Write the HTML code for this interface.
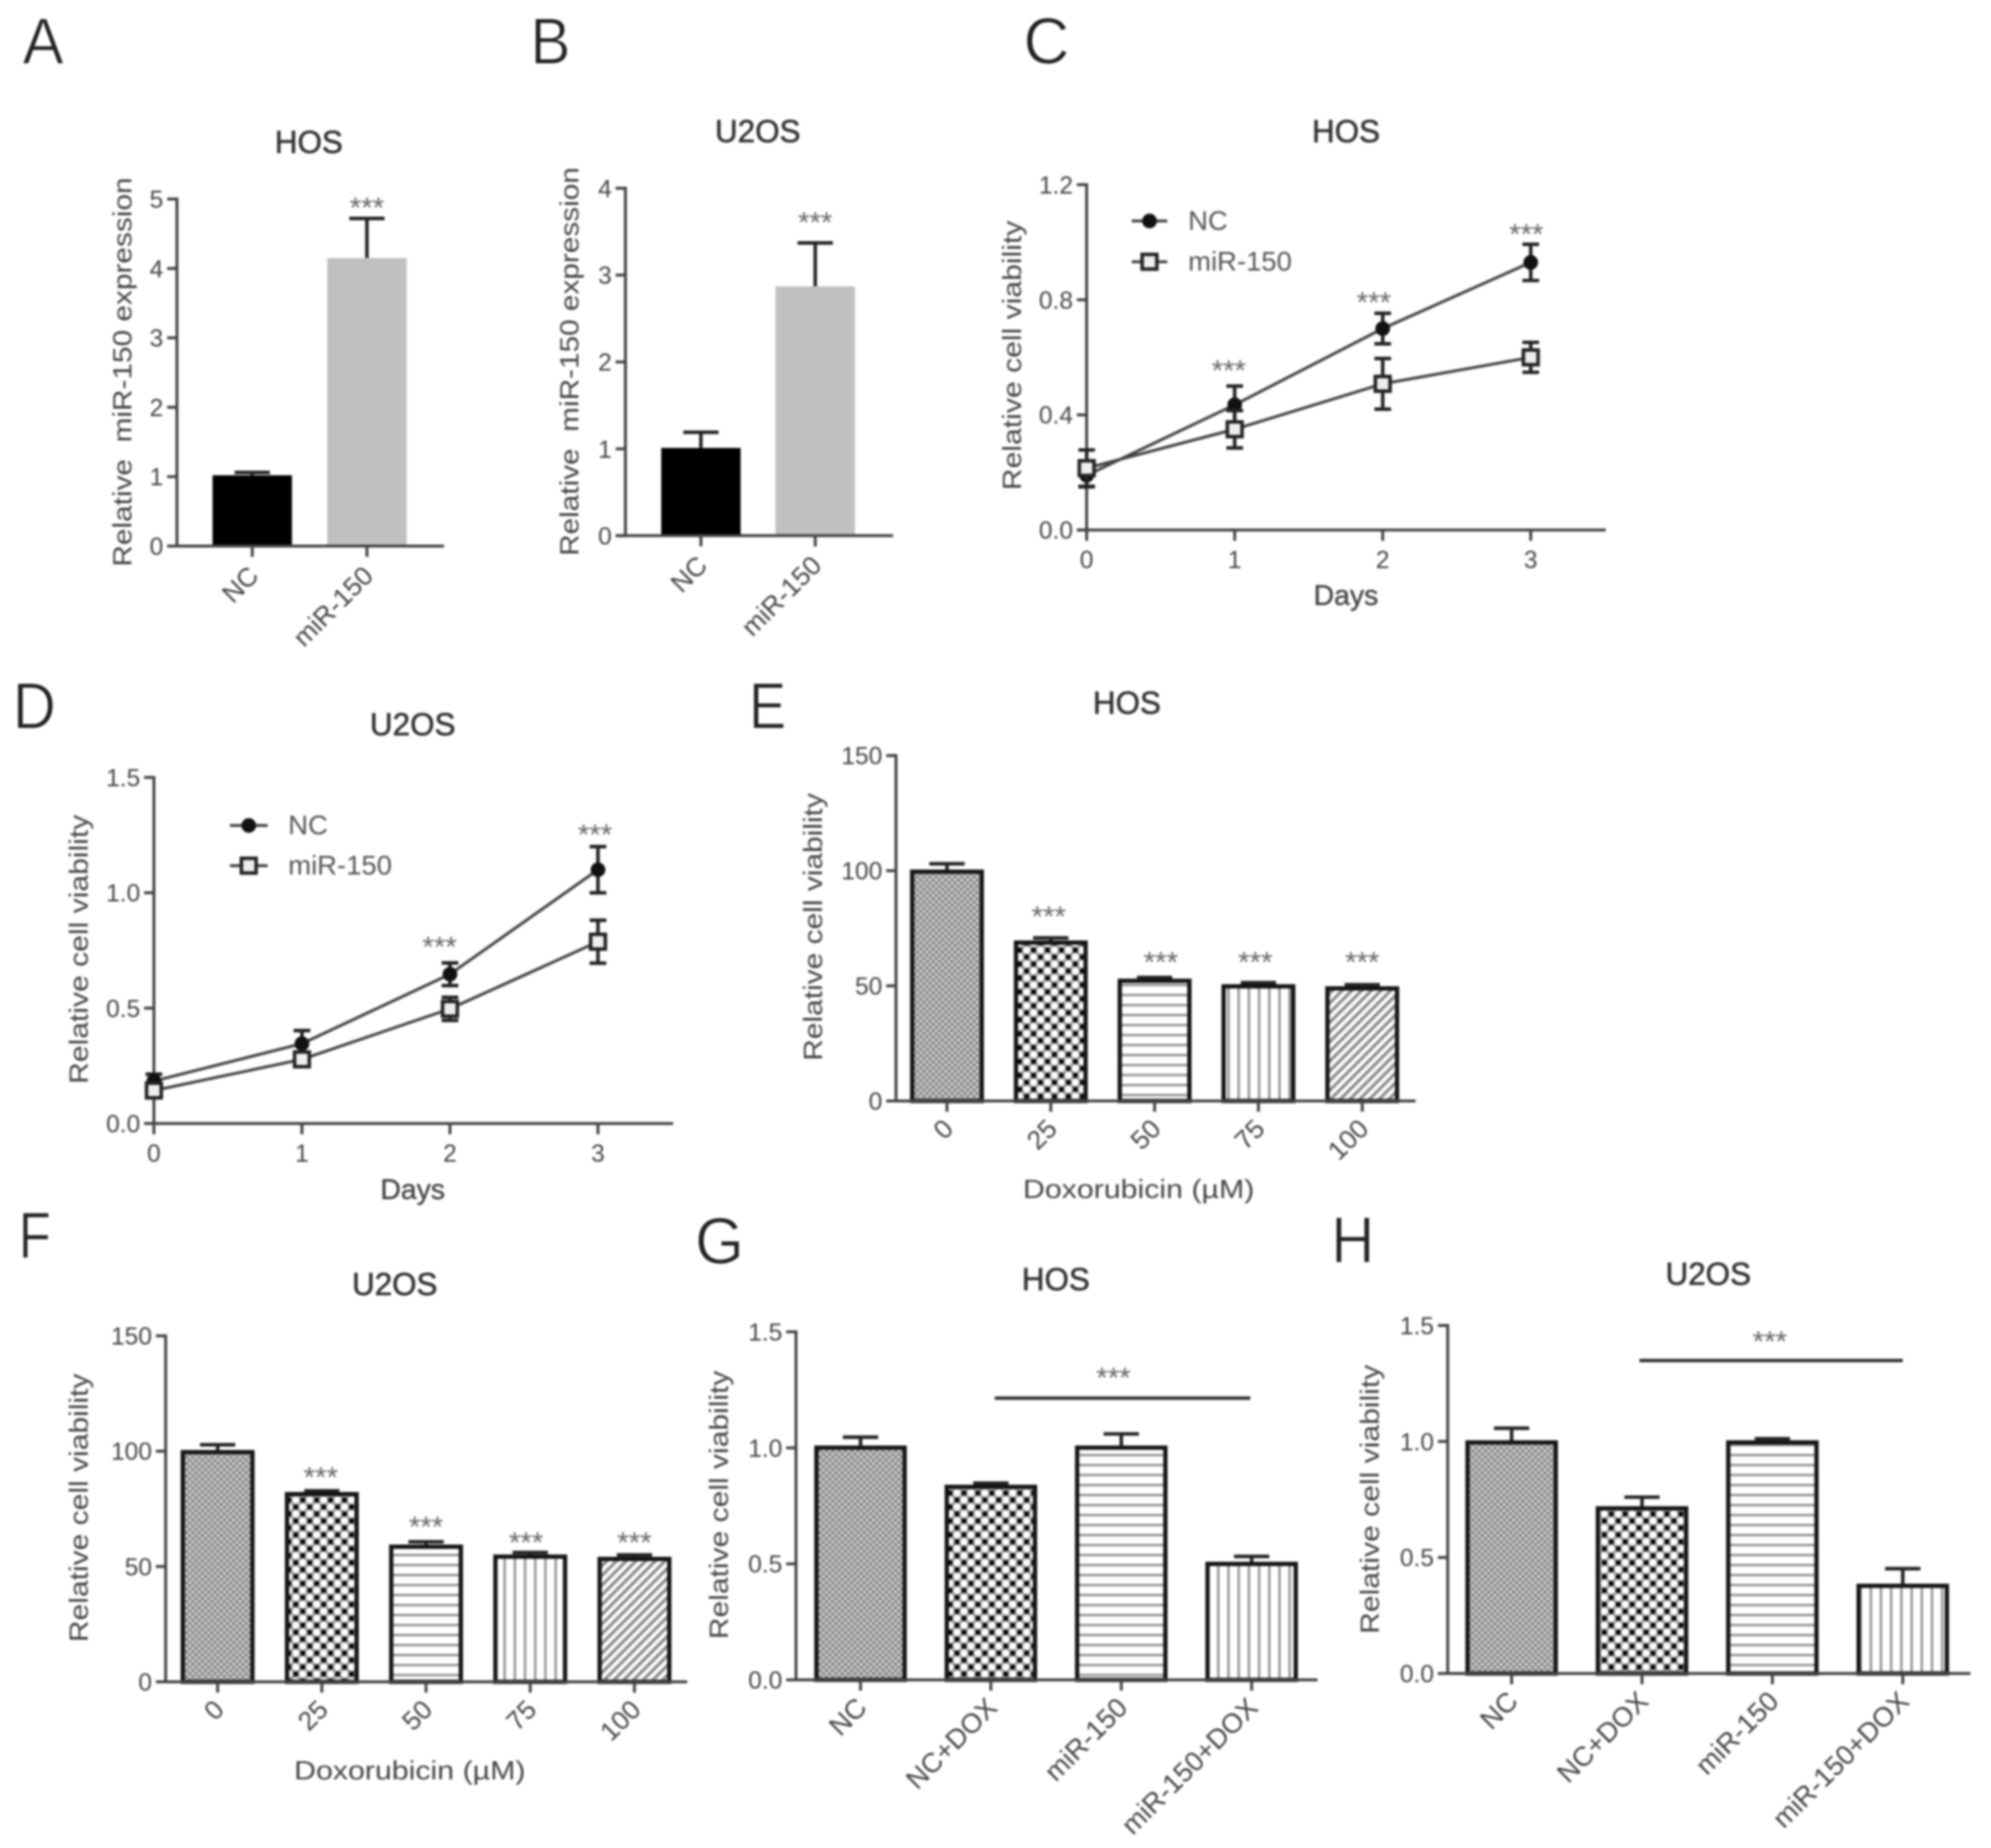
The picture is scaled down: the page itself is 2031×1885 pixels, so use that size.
<!DOCTYPE html>
<html lang="en">
<head>
<meta charset="utf-8">
<title>miR-150 viability figure</title>
<style>
  html, body { margin: 0; padding: 0; background: #fff; }
  #figure { display: block; width: 2031px; height: 1885px; filter: blur(0.95px); }
  text { font-family: "Liberation Sans", Arial, sans-serif; white-space: pre; }
  .letter { font-size: 67px; fill: #222; stroke: #fff; stroke-width: 1px; }
  .title { font-size: 32px; fill: #333; stroke: #333; stroke-width: 0.6px; text-anchor: middle; }
  .ylabel { font-size: 27px; fill: #444; text-anchor: middle; }
  .xlabel { font-size: 27px; fill: #444; text-anchor: middle; }
  .days { font-size: 29px; fill: #444; stroke: #444; stroke-width: 0.4px; text-anchor: middle; }
  .tick-text { font-size: 25px; fill: #444; }
  .stars { font-size: 30px; fill: #666; text-anchor: middle; }
  .legend-text { font-size: 28px; fill: #555; }
  .axis { stroke: #444; stroke-width: 3px; fill: none; }
  .outline { stroke: #151515; stroke-width: 4.4px; }
  .err { stroke: #222; stroke-width: 3.6px; fill: none; }
  .err-line { stroke: #222; stroke-width: 3.6px; fill: none; }
  .series { stroke: #444; stroke-width: 3px; fill: none; }
  .sig { stroke: #333; stroke-width: 3.5px; fill: none; }
</style>
</head>
<body>
<svg id="figure" xmlns="http://www.w3.org/2000/svg" width="2031" height="1885" viewBox="0 0 2031 1885">
  <defs>
    <pattern id="fill-dense" patternUnits="userSpaceOnUse" width="6.4" height="6.4">
      <rect width="6.4" height="6.4" fill="#8a8a8a"/>
      <circle cx="1.6" cy="1.6" r="1.55" fill="#d8d8d8"/>
      <circle cx="4.8" cy="4.8" r="1.55" fill="#d8d8d8"/>
    </pattern>
    <pattern id="fill-dots" patternUnits="userSpaceOnUse" width="14.2" height="14.2">
      <rect width="14.2" height="14.2" fill="#a8a8a8"/>
      <rect x="1.2" y="1.2" width="4.7" height="4.7" fill="#000"/>
      <rect x="8.3" y="8.3" width="4.7" height="4.7" fill="#000"/>
      <circle cx="10.65" cy="3.55" r="3.5" fill="#fff"/>
      <circle cx="3.55" cy="10.65" r="3.5" fill="#fff"/>
    </pattern>
    <pattern id="fill-horizontal" patternUnits="userSpaceOnUse" width="10" height="10.2">
      <rect width="10" height="10.2" fill="#fff"/>
      <rect y="4" width="10" height="2.4" fill="#909090"/>
    </pattern>
    <pattern id="fill-vertical" patternUnits="userSpaceOnUse" width="10.4" height="10">
      <rect width="10.4" height="10" fill="#fff"/>
      <rect x="4" width="2.4" height="10" fill="#909090"/>
    </pattern>
    <pattern id="fill-diagonal" patternUnits="userSpaceOnUse" width="7" height="7" patternTransform="rotate(-45)">
      <rect width="7" height="7" fill="#fff"/>
      <rect y="1" width="7" height="3.2" fill="#8a8a8a"/>
    </pattern>
  </defs>
  <text class="letter" x="23" y="65" textLength="42" lengthAdjust="spacingAndGlyphs">A</text>
  <text class="letter" x="541" y="65" textLength="41" lengthAdjust="spacingAndGlyphs">B</text>
  <text class="letter" x="1044" y="65" textLength="47" lengthAdjust="spacingAndGlyphs">C</text>
  <text class="letter" x="13" y="743" textLength="44" lengthAdjust="spacingAndGlyphs">D</text>
  <text class="letter" x="764" y="743" textLength="38" lengthAdjust="spacingAndGlyphs">E</text>
  <text class="letter" x="19" y="1283" textLength="33" lengthAdjust="spacingAndGlyphs">F</text>
  <text class="letter" x="709" y="1289" textLength="50" lengthAdjust="spacingAndGlyphs">G</text>
  <text class="letter" x="1358" y="1288" textLength="44" lengthAdjust="spacingAndGlyphs">H</text>
</svg>
<script>
// ---------- Panel data ----------
const panelACategories = ['NC', 'miR-150'];
const panelAValues = [1.02, 4.15];
const panelAErrors = [0.04, 0.57];
const panelATicks = [0, 1, 2, 3, 4, 5];
const panelAStarCategory = [1];
const panelAStarLevels = [4.94];

const panelBCategories = ['NC', 'miR-150'];
const panelBValues = [1.01, 2.87];
const panelBErrors = [0.18, 0.5];
const panelBTicks = [0, 1, 2, 3, 4];
const panelBStarCategory = [1];
const panelBStarLevels = [3.66];

const panelCDays = [0, 1, 2, 3];
const panelCNcValues = [0.19, 0.435, 0.70, 0.93];
const panelCNcErrors = [0.04, 0.065, 0.053, 0.063];
const panelCMirValues = [0.215, 0.35, 0.508, 0.60];
const panelCMirErrors = [0.063, 0.065, 0.088, 0.052];
const panelCTicks = ['0.0', '0.4', '0.8', '1.2'];
const panelCStarDays = [0.96, 1.94, 2.97];
const panelCStarLevels = [0.571, 0.807, 1.045];

const panelDDays = [0, 1, 2, 3];
const panelDNcValues = [0.184, 0.346, 0.647, 1.10];
const panelDNcErrors = [0.03, 0.057, 0.049, 0.10];
const panelDMirValues = [0.143, 0.278, 0.497, 0.788];
const panelDMirErrors = [0.03, 0.03, 0.05, 0.093];
const panelDTicks = ['0.0', '0.5', '1.0', '1.5'];
const panelDStarDays = [1.93, 2.98];
const panelDStarLevels = [0.786, 1.273];

const panelECategories = ['0', '25', '50', '75', '100'];
const panelEValues = [100, 69.2, 52.6, 50.2, 49.3];
const panelEErrors = [3, 1.6, 1.0, 1.2, 1.2];
const panelETicks = [0, 50, 100, 150];
const panelEStarCategory = [0.98, 2.06, 2.97, 4];
const panelEStarLevels = [82.2, 62.3, 62.3, 62.3];

const panelFCategories = ['0', '25', '50', '75', '100'];
const panelFValues = [100, 81.8, 59, 54.7, 53.7];
const panelFErrors = [2.8, 1.0, 1.7, 1.4, 1.3];
const panelFTicks = [0, 50, 100, 150];
const panelFStarCategory = [0.99, 2, 2.96, 4];
const panelFStarLevels = [90.7, 69.2, 62.4, 62.4];

const panelGCategories = ['NC', 'NC+DOX', 'miR-150', 'miR-150+DOX'];
const panelGValues = [1.005, 0.836, 1.005, 0.504];
const panelGErrors = [0.041, 0.012, 0.055, 0.028];
const panelGTicks = ['0.0', '0.5', '1.0', '1.5'];
const panelGBracketCategories = [1.03, 2.99];
const panelGBracketLevels = [1.214];
const panelGStarCategory = [1.94];
const panelGStarLevels = [1.323];

const panelHCategories = ['NC', 'NC+DOX', 'miR-150', 'miR-150+DOX'];
const panelHValues = [1.0, 0.716, 1.0, 0.382];
const panelHErrors = [0.057, 0.044, 0.012, 0.07];
const panelHTicks = ['0.0', '0.5', '1.0', '1.5'];
const panelHBracketCategories = [0.98, 3.0];
const panelHBracketLevels = [1.349];
const panelHStarCategory = [1.98];
const panelHStarLevels = [1.452];

const legendNames = ['NC', 'miR-150'];

// ---------- Drawing helpers ----------
const NS = 'http://www.w3.org/2000/svg';
const figure = document.getElementById('figure');

function makeEl(parent, tag, attrs) {
  const el = document.createElementNS(NS, tag);
  for (const k in attrs) el.setAttribute(k, attrs[k]);
  parent.appendChild(el);
  return el;
}

function drawLine(parent, x1, y1, x2, y2, cls, name) {
  const el = makeEl(parent, 'line', { x1: x1, y1: y1, x2: x2, y2: y2, class: cls });
  
  
  return el;
}

function drawText(parent, x, y, str, cls, name, extra) {
  const el = makeEl(parent, 'text', Object.assign({ x: x, y: y, class: cls }, extra || {}));
  el.textContent = str;
  
  
  return el;
}

function drawGroup(name) {
  const el = makeEl(figure, 'g', {});
  
  
  return el;
}

function starText(parent, x, centerY, name) {
  return drawText(parent, x, centerY + 15, '***', 'stars', name);
}

function drawFrame(g, p, yScale) {
  const f = p.frame;
  drawLine(g, f.left, f.top - 1.5, f.left, f.zero + 1.5, 'axis', 'y-axis-line');
  drawLine(g, f.left - 10, f.zero, f.right, f.zero, 'axis', 'x-axis-line');
  p.yTicks.forEach(function (t) {
    const y = yScale(Number(t));
    drawLine(g, f.left - 10, y, f.left, y, 'axis', 'y-tick');
    drawText(g, f.left - 14, y + 9, String(t), 'tick-text', 'y-tick-label', { 'text-anchor': 'end' });
  });
  drawText(g, p.titleX, p.titleY + 11, p.title, 'title', 'panel-title');
  const labelMid = (p.yLabelTop + p.yLabelBottom) / 2;
  drawText(g, 0, 0, p.yLabel, 'ylabel', 'y-axis-title', {
    transform: 'translate(' + (p.yLabelX + 8.5) + ',' + labelMid + ') rotate(-90)',
    textLength: p.yLabelBottom - p.yLabelTop,
    lengthAdjust: 'spacingAndGlyphs'
  });
}

function drawBarPanel(p) {
  const g = drawGroup('panel-' + p.id);
  const f = p.frame;
  const inset = p.outlined ? 1 : 0;
  const yScale = function (v) { return f.zero - v / p.yMax * (f.zero - f.top); };
  const xScale = function (i) { return p.catFirst + i * p.catStep; };
  p.values.forEach(function (v, i) {
    const cx = xScale(i);
    const top = yScale(v);
    const errTop = yScale(v + p.errors[i]);
    drawLine(g, cx, top, cx, errTop, 'err', 'error-bar-stem');
    drawLine(g, cx - 18, errTop, cx + 18, errTop, 'err', 'error-bar-cap');
    const bar = makeEl(g, 'rect', {
      x: cx - p.barWidth / 2,
      y: top + inset,
      width: p.barWidth,
      height: f.zero - top - inset,
      fill: p.fills[i],
      class: p.outlined ? 'outline' : ''
    });
    
    
  });
  drawFrame(g, p, yScale);
  p.categories.forEach(function (c, i) {
    const cx = xScale(i);
    drawLine(g, cx, f.zero, cx, f.zero + 11, 'axis', 'x-tick');
    const ax = cx + p.catDx;
    const ay = f.zero + p.catDy;
    drawText(g, 0, 0, c, 'tick-text', 'x-tick-label', {
      'text-anchor': 'end',
      style: 'font-size:' + p.catFont + 'px',
      transform: 'translate(' + ax + ',' + ay + ') rotate(-45)'
    });
  });
  p.starCategory.forEach(function (c, i) {
    starText(g, xScale(c), yScale(p.starLevels[i]), 'significance-stars');
  });
  if (p.bracketCategories) {
    const by = yScale(p.bracketLevels[0]);
    drawLine(g, xScale(p.bracketCategories[0]), by, xScale(p.bracketCategories[1]), by, 'sig', 'significance-line');
  }
  if (p.xTitle) {
    drawText(g, p.xTitleX, p.xTitleY + 10, p.xTitle, 'xlabel', 'x-axis-title', {
      textLength: p.xTitleWidth,
      lengthAdjust: 'spacingAndGlyphs'
    });
  }
}

function drawCircle(g, x, y, name) {
  const el = makeEl(g, 'circle', { cx: x, cy: y, r: 7.5, fill: '#111' });
  
  
}

function drawSquare(g, x, y, name) {
  const el = makeEl(g, 'rect', { x: x - 7.5, y: y - 7.5, width: 15, height: 15, fill: '#eee', stroke: '#222', 'stroke-width': 3.6 });
  
  
}

function drawSeries(g, p, xScale, yScale, values, errors, marker, seriesName) {
  const path = makeEl(g, 'polyline', {
    points: values.map(function (v, i) { return xScale(p.days[i]) + ',' + yScale(v); }).join(' '),
    class: 'series'
  });
  
  
  values.forEach(function (v, i) {
    const x = xScale(p.days[i]);
    const hi = yScale(v + errors[i]);
    const lo = yScale(v - errors[i]);
    drawLine(g, x, hi, x, lo, 'err-line', seriesName + '-error-bar');
    drawLine(g, x - 8.5, hi, x + 8.5, hi, 'err-line', seriesName + '-error-cap-top');
    drawLine(g, x - 8.5, lo, x + 8.5, lo, 'err-line', seriesName + '-error-cap-bottom');
    marker(g, x, yScale(v), seriesName + '-point');
  });
}

function drawLinePanel(p) {
  const g = drawGroup('panel-' + p.id);
  const f = p.frame;
  const yScale = function (v) { return f.zero - v / p.yMax * (f.zero - f.top); };
  const xScale = function (d) { return f.left + d * p.dayStep; };
  drawFrame(g, p, yScale);
  p.days.forEach(function (d) {
    const x = xScale(d);
    drawLine(g, x, f.zero, x, f.zero + 11, 'axis', 'x-tick');
    drawText(g, x, f.zero + 39, String(d), 'tick-text', 'x-tick-label', { 'text-anchor': 'middle' });
  });
  drawText(g, p.xTitleX, p.xTitleY + 10, 'Days', 'days', 'x-axis-title');
  drawSeries(g, p, xScale, yScale, p.ncValues, p.ncErrors, drawCircle, 'nc');
  drawSeries(g, p, xScale, yScale, p.mirValues, p.mirErrors, drawSquare, 'mir-150');
  p.starDays.forEach(function (d, i) {
    starText(g, xScale(d), yScale(p.starLevels[i]), 'significance-stars');
  });
  const lg = p.legend;
  const mid = (lg.x1 + lg.x2) / 2;
  drawLine(g, lg.x1, lg.y1, lg.x2, lg.y1, 'series', 'legend-line-nc');
  drawCircle(g, mid, lg.y1, 'legend-marker-nc');
  drawText(g, lg.textX, lg.y1 + 9, legendNames[0], 'legend-text', 'legend-entry-nc');
  drawLine(g, lg.x1, lg.y2, lg.x2, lg.y2, 'series', 'legend-line-mir-150');
  drawSquare(g, mid, lg.y2, 'legend-marker-mir-150');
  drawText(g, lg.textX, lg.y2 + 9, legendNames[1], 'legend-text', 'legend-entry-mir-150');
}

// ---------- Panels ----------
const fiveFills = ['url(#fill-dense)', 'url(#fill-dots)', 'url(#fill-horizontal)', 'url(#fill-vertical)', 'url(#fill-diagonal)'];
const fourFills = ['url(#fill-dense)', 'url(#fill-dots)', 'url(#fill-horizontal)', 'url(#fill-vertical)'];
const solidFills = ['#000', '#c0c0c0'];
const expressionLabel = 'Relative  miR-150 expression';
const viabilityLabel = 'Relative cell viability';
const doxLabel = 'Doxorubicin (\u00B5M)';

drawBarPanel({
  id: 'a', title: 'HOS', titleX: 315, titleY: 145,
  frame: { left: 180.5, right: 453, top: 203, zero: 557 }, yMax: 5, yTicks: panelATicks,
  yLabel: expressionLabel, yLabelX: 125.6, yLabelTop: 181, yLabelBottom: 578,
  catFirst: 257.3, catStep: 117, barWidth: 81, categories: panelACategories,
  values: panelAValues, errors: panelAErrors, fills: solidFills, outlined: false,
  starCategory: panelAStarCategory, starLevels: panelAStarLevels, catDx: 8, catDy: 32, catFont: 27
});
drawBarPanel({
  id: 'b', title: 'U2OS', titleX: 773, titleY: 134,
  frame: { left: 638, right: 911, top: 192, zero: 546.4 }, yMax: 4, yTicks: panelBTicks,
  yLabel: expressionLabel, yLabelX: 581.6, yLabelTop: 170.5, yLabelBottom: 567,
  catFirst: 715, catStep: 116.6, barWidth: 81, categories: panelBCategories,
  values: panelBValues, errors: panelBErrors, fills: solidFills, outlined: false,
  starCategory: panelBStarCategory, starLevels: panelBStarLevels, catDx: 8, catDy: 32, catFont: 27
});
drawLinePanel({
  id: 'c', title: 'HOS', titleX: 1373, titleY: 134,
  frame: { left: 1108.5, right: 1638, top: 188.4, zero: 540.6 }, yMax: 1.2, yTicks: panelCTicks,
  yLabel: viabilityLabel, yLabelX: 1033, yLabelTop: 225, yLabelBottom: 500,
  dayStep: 151, days: panelCDays, ncValues: panelCNcValues, ncErrors: panelCNcErrors,
  mirValues: panelCMirValues, mirErrors: panelCMirErrors,
  starDays: panelCStarDays, starLevels: panelCStarLevels, xTitleX: 1373, xTitleY: 607,
  legend: { x1: 1154.5, x2: 1190.7, y1: 225.4, y2: 267, textX: 1212 }
});
drawLinePanel({
  id: 'd', title: 'U2OS', titleX: 421, titleY: 739,
  frame: { left: 157, right: 686.6, top: 793, zero: 1146 }, yMax: 1.5, yTicks: panelDTicks,
  yLabel: viabilityLabel, yLabelX: 81, yLabelTop: 831, yLabelBottom: 1105.6,
  dayStep: 151, days: panelDDays, ncValues: panelDNcValues, ncErrors: panelDNcErrors,
  mirValues: panelDMirValues, mirErrors: panelDMirErrors,
  starDays: panelDStarDays, starLevels: panelDStarLevels, xTitleX: 421, xTitleY: 1213,
  legend: { x1: 234.5, x2: 273, y1: 842, y2: 883, textX: 294 }
});
drawBarPanel({
  id: 'e', title: 'HOS', titleX: 1149.5, titleY: 717,
  frame: { left: 914, right: 1444, top: 770.7, zero: 1123 }, yMax: 150, yTicks: panelETicks,
  yLabel: viabilityLabel, yLabelX: 830, yLabelTop: 809, yLabelBottom: 1082,
  catFirst: 966, catStep: 105.9, barWidth: 71, categories: panelECategories,
  values: panelEValues, errors: panelEErrors, fills: fiveFills, outlined: true,
  starCategory: panelEStarCategory, starLevels: panelEStarLevels, catDx: 8, catDy: 30, catFont: 27,
  xTitle: doxLabel, xTitleX: 1161.5, xTitleY: 1212, xTitleWidth: 236
});
drawBarPanel({
  id: 'f', title: 'U2OS', titleX: 402.7, titleY: 1310,
  frame: { left: 169, right: 701, top: 1362.6, zero: 1715.5 }, yMax: 150, yTicks: panelFTicks,
  yLabel: viabilityLabel, yLabelX: 81, yLabelTop: 1401, yLabelBottom: 1675,
  catFirst: 222, catStep: 106.3, barWidth: 71, categories: panelFCategories,
  values: panelFValues, errors: panelFErrors, fills: fiveFills, outlined: true,
  starCategory: panelFStarCategory, starLevels: panelFStarLevels, catDx: 8, catDy: 30, catFont: 27,
  xTitle: doxLabel, xTitleX: 418, xTitleY: 1805, xTitleWidth: 236
});
drawBarPanel({
  id: 'g', title: 'HOS', titleX: 1077, titleY: 1305,
  frame: { left: 812, right: 1344, top: 1358.5, zero: 1713.5 }, yMax: 1.5, yTicks: panelGTicks,
  yLabel: viabilityLabel, yLabelX: 733.8, yLabelTop: 1398, yLabelBottom: 1672,
  catFirst: 877.8, catStep: 133, barWidth: 90, categories: panelGCategories,
  values: panelGValues, errors: panelGErrors, fills: fourFills, outlined: true,
  starCategory: panelGStarCategory, starLevels: panelGStarLevels,
  bracketCategories: panelGBracketCategories, bracketLevels: panelGBracketLevels, catDx: 8, catDy: 30, catFont: 28
});
drawBarPanel({
  id: 'h', title: 'U2OS', titleX: 1742.6, titleY: 1299.6,
  frame: { left: 1476.8, right: 2010, top: 1352, zero: 1707 }, yMax: 1.5, yTicks: panelHTicks,
  yLabel: viabilityLabel, yLabelX: 1398, yLabelTop: 1392, yLabelBottom: 1666.6,
  catFirst: 1542, catStep: 133, barWidth: 90, categories: panelHCategories,
  values: panelHValues, errors: panelHErrors, fills: fourFills, outlined: true,
  starCategory: panelHStarCategory, starLevels: panelHStarLevels,
  bracketCategories: panelHBracketCategories, bracketLevels: panelHBracketLevels, catDx: 8, catDy: 30, catFont: 28
});
</script>
</body>
</html>
